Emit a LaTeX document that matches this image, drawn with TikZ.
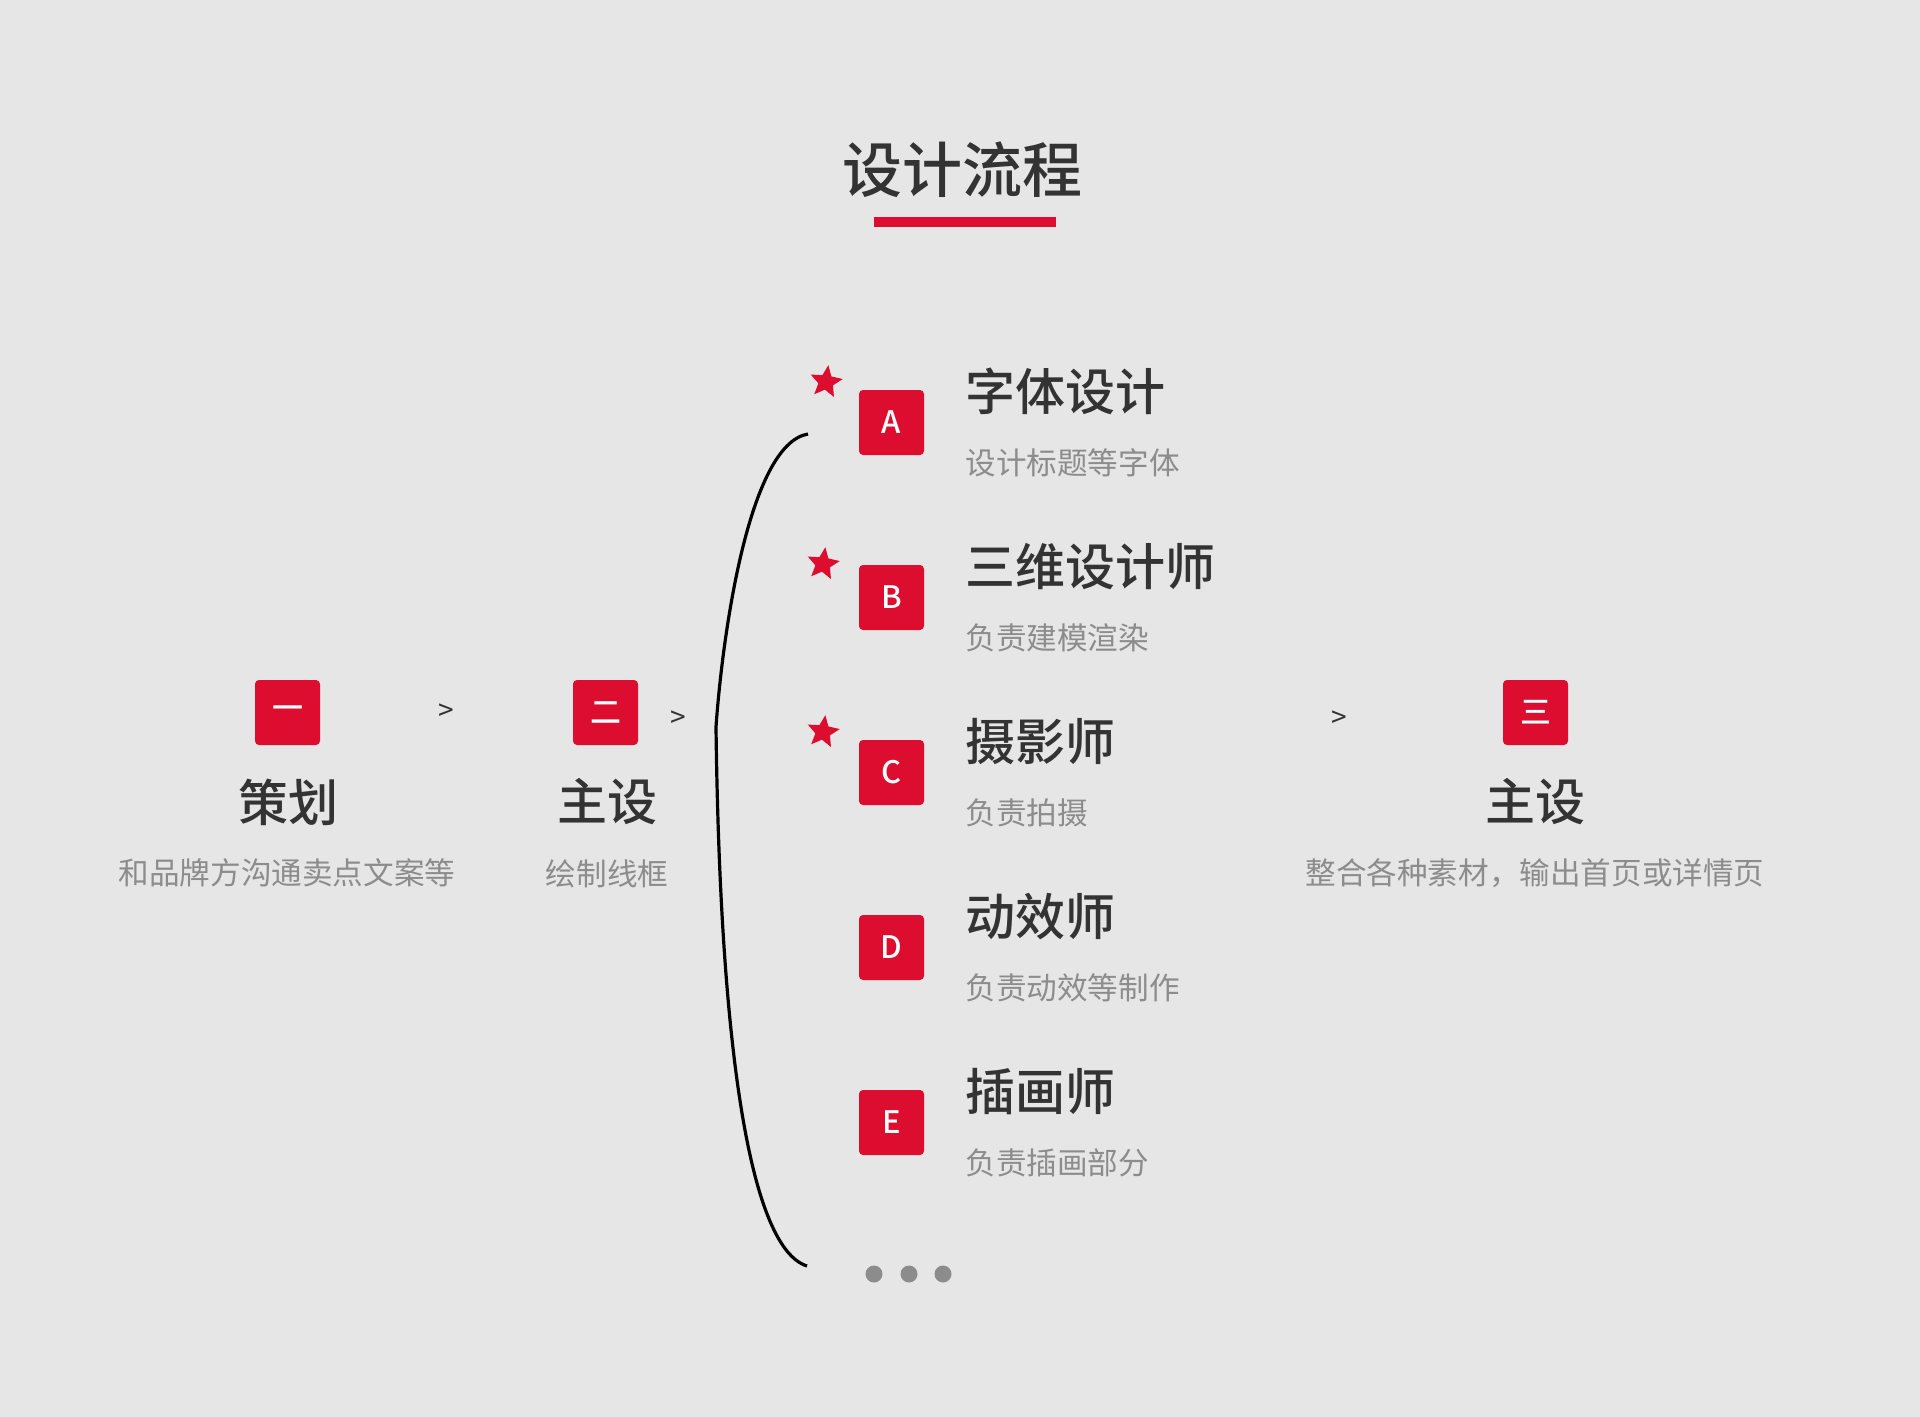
\documentclass[tikz,border=0pt]{standalone}
\usepackage{fontspec}
\setmainfont{Noto Sans CJK SC}
\newfontfamily\midfont{Noto Sans CJK SC Medium}
\usetikzlibrary{shapes.geometric}
\definecolor{bg}{HTML}{E6E6E6}
\definecolor{mark}{HTML}{DC0D2E}
\definecolor{ink}{HTML}{333333}
\definecolor{greytext}{HTML}{8C8C8C}

\begin{document}
\begin{tikzpicture}[x=0.5pt, y=-0.5pt]
        \tikzstyle{tag} = [fill=mark, rounded corners=2pt, minimum size=32.5pt, inner sep=0pt, text=white, font=\midfont\fontsize{15.5}{15.5}\selectfont]
        \tikzstyle{head} = [text=ink, inner sep=0pt, font=\midfont\fontsize{25}{25}\selectfont]
        \tikzstyle{sub} = [text=greytext, inner sep=0pt, font=\fontsize{15.3}{15.3}\selectfont]
        \tikzstyle{pin} = [star, star points=5, star point ratio=2.2, fill=mark, minimum size=17pt, inner sep=0pt, rotate=-8]
        \tikzstyle{go} = [text=ink, inner sep=0pt, font=\fontsize{14}{14}\selectfont]
        \tikzstyle{dot} = [circle, fill=greytext, minimum size=8.5pt, inner sep=0pt]
        
        \fill[bg] (0, 0) rectangle (1920, 1417);
        
        \node[text=ink, inner sep=0pt, font=\midfont\fontsize{30}{30}\selectfont] (title) at (962, 170) {设计流程};
        \node[fill=mark, minimum width=91pt, minimum height=5pt, inner sep=0pt] (title bar) at (965, 222) {};
        
        \node[tag] (box one) at (287.5, 712.5) {一};
        \node[head] (head one) at (288, 802) {策划};
        \node[sub] (sub one) at (287, 873) {和品牌方沟通卖点文案等};
        \node[go] (go one) at (446, 712) {>};
        
        \node[tag] (box two) at (605.5, 712.5) {二};
        \node[head] (head two) at (607, 802) {主设};
        \node[sub] (sub two) at (607, 874) {绘制线框};
        \node[go] (go two) at (678, 719) {>};
        
        \coordinate (brace top) at (808, 434);
        \coordinate (brace mid) at (716, 727);
        \coordinate (brace bot) at (807, 1266);
        \draw[line width=1.6pt] (brace top) .. controls (748, 444) and (722, 640) .. (brace mid) .. controls (720, 1050) and (750, 1248) .. (brace bot);
        
        \node[pin] (pin a) at (826, 382) {};
        \node[tag] (box a) at (891.5, 422.5) {A};
        \node[head, anchor=west] (head a) at (965, 391.5) {字体设计};
        \node[sub, anchor=west] (sub a) at (965, 462.5) {设计标题等字体};
        
        \node[pin] (pin b) at (823, 564) {};
        \node[tag] (box b) at (891.5, 597.5) {B};
        \node[head, anchor=west] (head b) at (965, 566.5) {三维设计师};
        \node[sub, anchor=west] (sub b) at (965, 637.5) {负责建模渲染};
        
        \node[pin] (pin c) at (823, 732) {};
        \node[tag] (box c) at (891.5, 772.5) {C};
        \node[head, anchor=west] (head c) at (965, 741.5) {摄影师};
        \node[sub, anchor=west] (sub c) at (965, 812.5) {负责拍摄};
        
        \node[tag] (box d) at (891.5, 947.5) {D};
        \node[head, anchor=west] (head d) at (965, 916.5) {动效师};
        \node[sub, anchor=west] (sub d) at (965, 987.5) {负责动效等制作};
        
        \node[tag] (box e) at (891.5, 1122.5) {E};
        \node[head, anchor=west] (head e) at (965, 1091.5) {插画师};
        \node[sub, anchor=west] (sub e) at (965, 1162.5) {负责插画部分};
        
        \node[dot] (dot one) at (874, 1274) {};
        \node[dot] (dot two) at (909, 1274) {};
        \node[dot] (dot three) at (943, 1274) {};
        
        \node[go] (go three) at (1339, 719) {>};
        \node[tag] (box three) at (1535.5, 712.5) {三};
        \node[head] (head three) at (1535, 802) {主设};
        \node[sub] (sub three) at (1535, 873) {整合各种素材，输出首页或详情页};
    \end{tikzpicture}
\end{document}
